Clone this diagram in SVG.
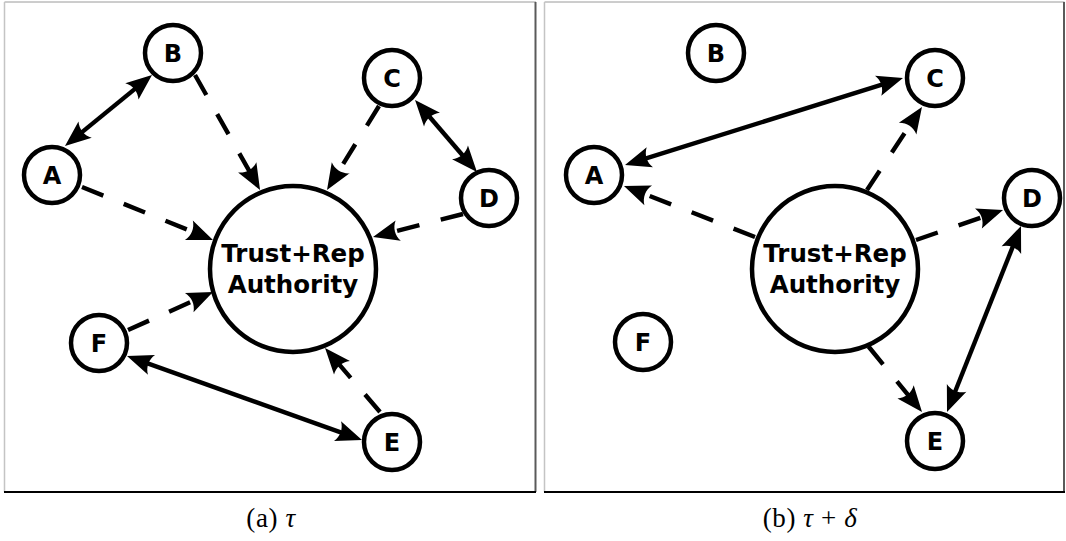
<svg xmlns="http://www.w3.org/2000/svg" width="1066" height="541" viewBox="0 0 1066 541">
  <style>
    .frame-top { stroke: #9a9a9a; stroke-width: 1; fill: none; }
    .frame-left { stroke: #c4c4c4; stroke-width: 1.5; fill: none; }
    .frame-right { stroke: #5a5a5a; stroke-width: 2; fill: none; }
    .frame-bottom { stroke: #000; stroke-width: 2; fill: none; }
    .node circle { fill: #fff; stroke: #000; stroke-width: 4.5; }
    .node text { font-family: "DejaVu Sans", "Liberation Sans", sans-serif; font-weight: bold; font-size: 24px; text-anchor: middle; fill: #000; }
    .hub text { font-size: 24.5px; }
    .edge { stroke: #000; stroke-width: 4.4; fill: none; }
    .dashed { stroke-dasharray: 23 22; marker-end: url(#head); }
    .both { marker-start: url(#head); marker-end: url(#head); }
    .caption { font-family: "Liberation Serif", "DejaVu Serif", serif; font-size: 27px; letter-spacing: 0.6px; fill: #000; text-anchor: middle; }
  </style>
  <defs>
    <!-- stealth-style arrowhead; the tip sits 7px past the line end -->
    <marker id="head" markerUnits="userSpaceOnUse" orient="auto-start-reverse" viewBox="-20 -11 28 22" refX="0" refY="0" markerWidth="28" markerHeight="22" overflow="visible">
      <path d="M7,0 L-19,-10.5 C-14.5,-4 -14.5,4 -19,10.5 Z" fill="#000"/>
    </marker>
  </defs>

  <!-- panel frames -->
  <g id="frames">
    <line class="frame-top" x1="4.5" y1="2" x2="536" y2="2"/>
    <line class="frame-left" x1="4.5" y1="2" x2="4.5" y2="492"/>
    <line class="frame-right" x1="535.5" y1="2" x2="535.5" y2="492"/>
    <line class="frame-bottom" x1="4" y1="492" x2="536" y2="492"/>
    <line class="frame-top" x1="544.5" y1="2" x2="1064.5" y2="2"/>
    <line class="frame-left" x1="544.5" y1="2" x2="544.5" y2="492"/>
    <line class="frame-right" x1="1064" y1="2" x2="1064" y2="492"/>
    <line class="frame-bottom" x1="544" y1="492" x2="1065" y2="492"/>
  </g>

  <!-- connectors -->
  <g id="connectors">
    <!-- panel (a) -->
    <line class="edge both" x1="70.4" y1="141.6" x2="146.6" y2="79.4"/>
    <line class="edge dashed" x1="195" y1="75" x2="256.6" y2="183.9"/>
    <line class="edge dashed" x1="379" y1="106" x2="330.7" y2="184"/>
    <line class="edge both" x1="419.6" y1="105.3" x2="472.4" y2="166.7"/>
    <line class="edge dashed" x1="463" y1="214" x2="379.8" y2="235.3"/>
    <line class="edge dashed" x1="82" y1="187" x2="206.5" y2="237.4"/>
    <line class="edge dashed" x1="128" y1="330" x2="206.6" y2="294.9"/>
    <line class="edge dashed" x1="380" y1="412" x2="329.6" y2="353.3"/>
    <line class="edge both" x1="133.6" y1="358.4" x2="355.4" y2="437.6"/>
    <!-- panel (b) -->
    <line class="edge both" x1="631.7" y1="162.9" x2="896.3" y2="80.1"/>
    <line class="edge dashed" x1="867" y1="190" x2="918.1" y2="112.8"/>
    <line class="edge dashed" x1="755" y1="237" x2="630.5" y2="188.5"/>
    <line class="edge dashed" x1="916" y1="240" x2="996.4" y2="212.3"/>
    <line class="edge dashed" x1="868.5" y1="346.5" x2="917.6" y2="406.6"/>
    <line class="edge both" x1="1018.4" y1="232.5" x2="949.6" y2="405.5"/>
  </g>

  <!-- panel (a) nodes -->
  <g id="a-hub" class="node hub">
    <circle cx="293" cy="269" r="83"/>
    <text x="293" y="262">Trust+Rep</text>
    <text x="293" y="293">Authority</text>
  </g>
  <g id="a-A" class="node"><circle cx="52" cy="175" r="28"/><text x="52" y="184">A</text></g>
  <g id="a-B" class="node"><circle cx="173" cy="53" r="28"/><text x="173" y="62">B</text></g>
  <g id="a-C" class="node"><circle cx="392" cy="78" r="28"/><text x="392" y="87">C</text></g>
  <g id="a-D" class="node"><circle cx="489" cy="198" r="28"/><text x="489" y="207">D</text></g>
  <g id="a-E" class="node"><circle cx="392" cy="442" r="28"/><text x="392" y="451">E</text></g>
  <g id="a-F" class="node"><circle cx="99" cy="343" r="28"/><text x="99" y="352">F</text></g>

  <!-- panel (b) nodes -->
  <g id="b-hub" class="node hub">
    <circle cx="835" cy="269" r="83"/>
    <text x="835" y="262">Trust+Rep</text>
    <text x="835" y="293">Authority</text>
  </g>
  <g id="b-A" class="node"><circle cx="594" cy="175" r="28"/><text x="594" y="184">A</text></g>
  <g id="b-B" class="node"><circle cx="716" cy="53" r="28"/><text x="716" y="62">B</text></g>
  <g id="b-C" class="node"><circle cx="935" cy="78" r="28"/><text x="935" y="87">C</text></g>
  <g id="b-D" class="node"><circle cx="1032" cy="198" r="28"/><text x="1032" y="207">D</text></g>
  <g id="b-E" class="node"><circle cx="935" cy="441" r="28"/><text x="935" y="450">E</text></g>
  <g id="b-F" class="node"><circle cx="643" cy="342" r="28"/><text x="643" y="351">F</text></g>

  <!-- captions -->
  <text class="caption" x="271" y="527">(a) <tspan font-style="italic">τ</tspan></text>
  <text class="caption" x="810" y="527">(b) <tspan font-style="italic">τ</tspan> + <tspan font-style="italic">δ</tspan></text>
</svg>
